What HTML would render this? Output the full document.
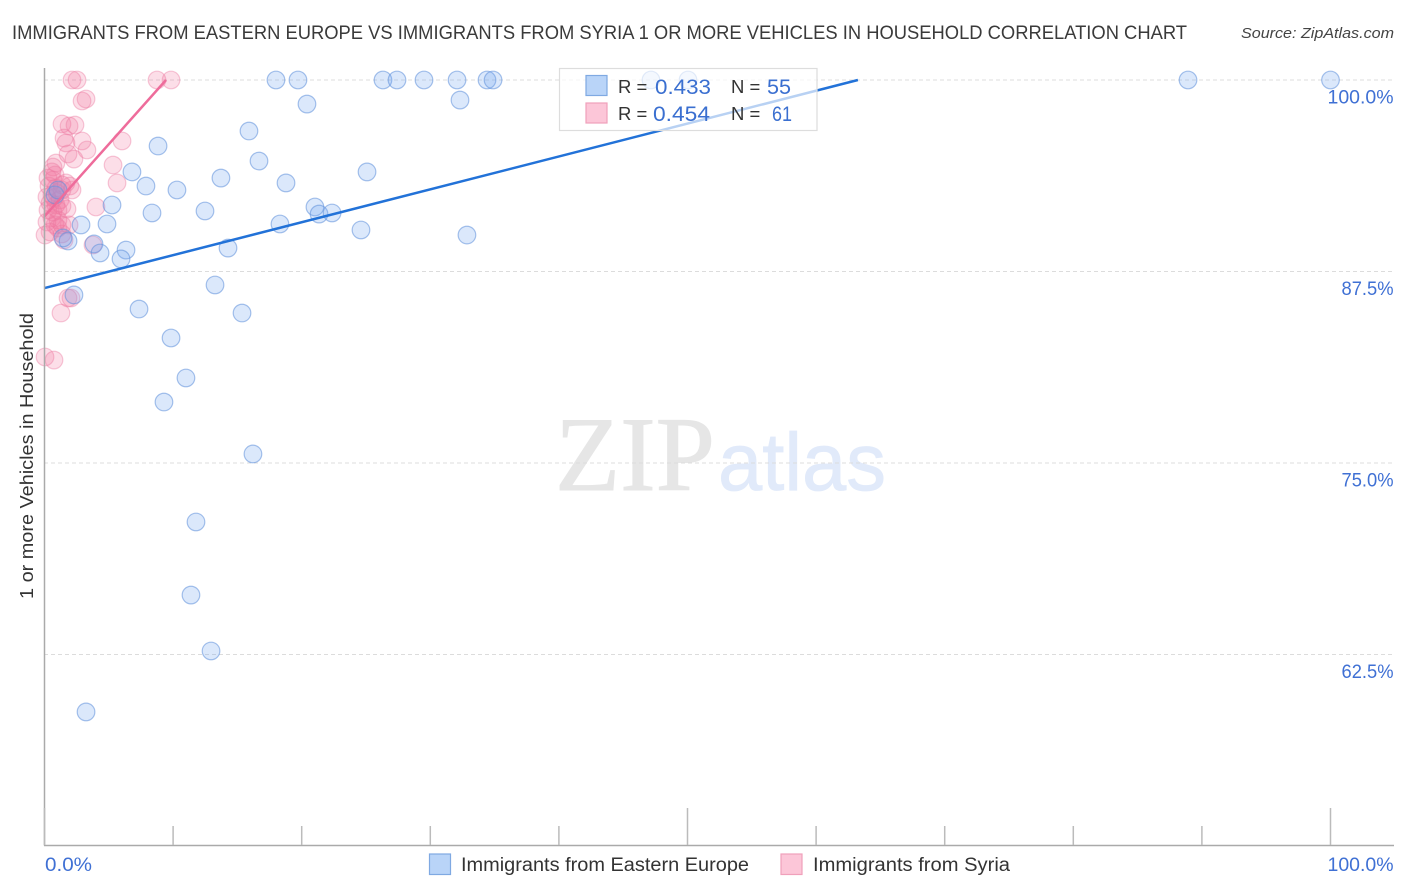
<!DOCTYPE html>
<html lang="en">
<head>
<meta charset="utf-8">
<title>Correlation Chart</title>
<style>
html,body{margin:0;padding:0;background:#fff;}
svg{display:block;font-family:"Liberation Sans",sans-serif;}
</style>
</head>
<body>
<svg id="chart" width="1406" height="892" viewBox="0 0 1406 892" xmlns="http://www.w3.org/2000/svg">
  <text x="12" y="39" font-size="19" fill="#3a3a3a" textLength="1175" lengthAdjust="spacingAndGlyphs">IMMIGRANTS FROM EASTERN EUROPE VS IMMIGRANTS FROM SYRIA 1 OR MORE VEHICLES IN HOUSEHOLD CORRELATION CHART</text>
  <text x="1241" y="38" font-size="15" font-style="italic" fill="#444" textLength="153" lengthAdjust="spacingAndGlyphs">Source: ZipAtlas.com</text>
  <g>
    <text x="555" y="490" font-family="'Liberation Serif',serif" font-size="106" fill="#e6e6e6" stroke="#e6e6e6" stroke-width="1" textLength="160" lengthAdjust="spacingAndGlyphs">ZIP</text>
    <text x="718" y="490" font-size="82" fill="#e1eafa" stroke="#e1eafa" stroke-width="0.8" textLength="168" lengthAdjust="spacingAndGlyphs">atlas</text>
  </g>
  <g id="grid"></g>
  <g id="points-pink"></g>
  <g id="points-blue"></g>
  <g id="trends"></g>
  <g id="axes"></g>
  <text transform="translate(33,456) rotate(-90)" text-anchor="middle" font-size="18.5" fill="#333" textLength="286" lengthAdjust="spacingAndGlyphs">1 or more Vehicles in Household</text>
  <g>
    <rect x="559.5" y="68.5" width="257.5" height="62" fill="#fff" fill-opacity="0.68" stroke="#ddd" stroke-width="1.2"/>
    <rect x="586" y="75.5" width="21" height="20" fill="#b9d4f8" stroke="#7fa9e2" stroke-width="1.2"/>
    <rect x="586" y="103" width="21" height="20" fill="#fcc6d8" stroke="#f0a0bb" stroke-width="1.2"/>
    <text x="618" y="93" font-size="18.5" fill="#333">R =</text>
    <text x="655" y="94" font-size="21" fill="#3a6fd0" textLength="56" lengthAdjust="spacingAndGlyphs">0.433</text>
    <text x="731" y="93" font-size="18.5" fill="#333">N =</text>
    <text x="767" y="94" font-size="21" fill="#3a6fd0" textLength="24" lengthAdjust="spacingAndGlyphs">55</text>
    <text x="618" y="120" font-size="18.5" fill="#333">R =</text>
    <text x="653" y="121" font-size="21" fill="#3a6fd0" textLength="57" lengthAdjust="spacingAndGlyphs">0.454</text>
    <text x="731" y="120" font-size="18.5" fill="#333">N =</text>
    <text x="772" y="121" font-size="21" fill="#3a6fd0" textLength="20" lengthAdjust="spacingAndGlyphs">61</text>
  </g>
  <g>
    <rect x="429.5" y="854" width="21" height="20.5" fill="#b9d4f8" stroke="#7fa9e2" stroke-width="1.2"/>
    <text x="461" y="871" font-size="19" fill="#333" textLength="288" lengthAdjust="spacingAndGlyphs">Immigrants from Eastern Europe</text>
    <rect x="781" y="854" width="21" height="20.5" fill="#fcc6d8" stroke="#f0a0bb" stroke-width="1.2"/>
    <text x="813" y="871" font-size="19" fill="#333" textLength="197" lengthAdjust="spacingAndGlyphs">Immigrants from Syria</text>
  </g>
</svg>
<script>
const blueX = [18.0,19.71,26.32,27.41,29.51,32.08,34.41,34.88,47.16,50.04,88.92,100,20.41,32.31,15.9,8.83,16.68,6.8,25.08,13.72,7.89,18.78,10.3,5.25,8.36,12.48,21.03,21.35,22.36,4.86,2.84,18.31,24.61,32.85,1.83,1.44,3.85,6.34,14.27,4.32,5.95,13.26,2.29,7.35,15.36,9.84,11.0,9.29,16.21,11.78,11.39,12.95,3.23,0.82,1.05];
const blueY = [100,100,100,100,100,100,100,100,100,100,100,100,98.43,98.69,96.67,95.69,94.71,94.0,94.0,93.6,93.08,93.28,92.82,91.84,91.32,91.45,91.71,91.25,91.32,90.6,90.54,90.6,90.21,89.88,89.49,89.69,89.3,88.9,89.03,88.71,88.32,86.62,85.97,85.05,84.79,83.16,80.55,78.98,75.59,71.15,66.38,62.73,58.75,92.5,92.82];
const pinkX = [2.14,2.53,8.75,9.84,2.92,3.23,1.36,1.91,2.37,1.52,1.67,2.92,3.3,1.83,2.29,6.03,5.33,5.64,0.89,0.66,4.0,0.04,0.74,1.28,1.83,2.06,3.77,1.52,1.36,0.58,0.82,0.27,0.66,0.35,0.89,1.36,1.67,1.98,2.14,1.36,0.97,0.58,0.19,0.74,1.21,0.43,0.89,1.36,0.27,0.66,1.05,1.75,0.58,1.05,0.19,0.82,1.36,1.91,0.43,1.05,0.04];
const pinkY = [100,100,100,100,98.63,98.76,97.13,97.0,97.06,96.21,95.89,96.02,95.43,95.17,94.84,96.02,94.45,93.28,94.58,94.32,91.71,81.92,81.72,84.79,85.77,85.77,89.23,89.56,89.95,94.0,93.8,93.6,93.47,93.08,92.95,93.15,93.28,93.08,92.82,92.82,92.62,92.49,92.36,92.3,92.17,91.97,91.84,91.78,91.51,91.38,91.51,91.58,90.99,90.86,90.73,90.54,90.54,90.54,90.08,90.34,89.88];
const blueTrendX = [0,63.25];
const blueTrendY = [86.42,100];
const pinkTrendX = [0,9.45];
const pinkTrendY = [91.1,100];
const yTicks = [100,87.5,75,62.5];
const yTickLabels = ["100.0%","87.5%","75.0%","62.5%"];
const xTicks = [0,10,20,30,40,50,60,70,80,90,100];
const xMajorTicks = [0,50,100];
const xEndLabels = ["0.0%","100.0%"];

const NS = "http://www.w3.org/2000/svg";
const xScale = v => 44.5 + v * 12.86;
const yScale = v => 80 + (100 - v) * 15.32;
function make(tag, attrs, parent) {
  const el = document.createElementNS(NS, tag);
  for (const k in attrs) el.setAttribute(k, attrs[k]);
  parent.appendChild(el);
  return el;
}
const grid = document.getElementById("grid");
const axes = document.getElementById("axes");

yTicks.forEach((t, i) => {
  const line = make("line", {x1:44, x2:1394, y1:yScale(t), y2:yScale(t), stroke:"#dcdcdc", "stroke-width":1, "stroke-dasharray":"4 3"}, grid);
  
  
  const label = make("text", {x:1393.5, y:yScale(t) + 23.5, "text-anchor":"end", "font-size":19.5, fill:"#3f70d4", textLength:yTickLabels[i].length > 5 ? 66 : 52, lengthAdjust:"spacingAndGlyphs"}, axes);
  
  
  label.textContent = yTickLabels[i];
});

const yAxis = make("line", {x1:44.5, x2:44.5, y1:68, y2:845.5, stroke:"#aaa", "stroke-width":1.5}, axes);


const xAxis = make("line", {x1:44, x2:1394, y1:845.5, y2:845.5, stroke:"#aaa", "stroke-width":1.5}, axes);



xTicks.forEach(t => {
  const top = xMajorTicks.includes(t) ? 808 : 826;
  const tick = make("line", {x1:xScale(t), x2:xScale(t), y1:top, y2:845, stroke:"#bbb", "stroke-width":1.5}, axes);
  
  
});

const x0Label = make("text", {x:45, y:871, "font-size":19.5, fill:"#3f70d4", textLength:47, lengthAdjust:"spacingAndGlyphs"}, axes);


x0Label.textContent = xEndLabels[0];
const x1Label = make("text", {x:1393.5, y:871, "text-anchor":"end", "font-size":19.5, fill:"#3f70d4", textLength:66, lengthAdjust:"spacingAndGlyphs"}, axes);


x1Label.textContent = xEndLabels[1];

const pinkGroup = document.getElementById("points-pink");
pinkX.forEach((x, i) => {
  const c = make("circle", {cx:xScale(x), cy:yScale(pinkY[i]), r:8.8, fill:"#f4739f", "fill-opacity":0.24, stroke:"#ec7ba3", "stroke-opacity":0.42, "stroke-width":1.2}, pinkGroup);
  
  
});
const blueGroup = document.getElementById("points-blue");
blueX.forEach((x, i) => {
  const c = make("circle", {cx:xScale(x), cy:yScale(blueY[i]), r:8.8, fill:"#6ea4ee", "fill-opacity":0.25, stroke:"#5e90da", "stroke-opacity":0.55, "stroke-width":1.2}, blueGroup);
  
  
});

const trends = document.getElementById("trends");
const blueLine = make("line", {x1:xScale(blueTrendX[0]), y1:yScale(blueTrendY[0]), x2:xScale(blueTrendX[1]), y2:yScale(blueTrendY[1]), stroke:"#2272d8", "stroke-width":2.5}, trends);


const pinkLine = make("line", {x1:xScale(pinkTrendX[0]), y1:yScale(pinkTrendY[0]), x2:xScale(pinkTrendX[1]), y2:yScale(pinkTrendY[1]), stroke:"#ee6c9b", "stroke-width":2.5}, trends);


</script>
</body>
</html>
